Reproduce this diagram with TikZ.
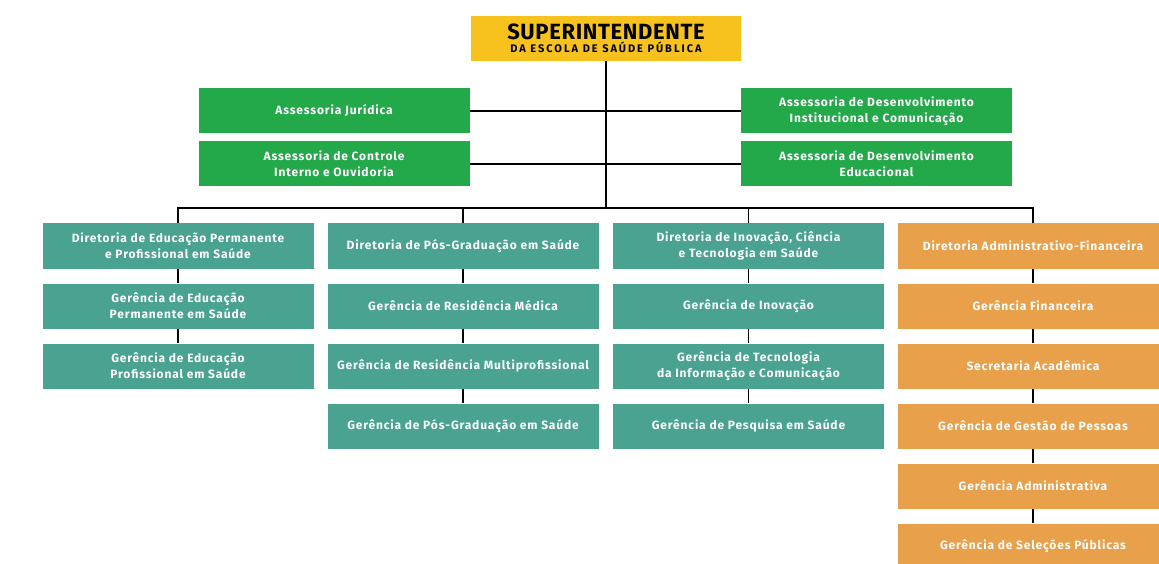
\documentclass[tikz,border=0pt]{standalone}
\usepackage{fontspec}
\setmainfont{Fira Sans}
\newfontfamily\unitfont[LetterSpace=7]{Fira Sans}
\newfontfamily\supfont[LetterSpace=3]{Fira Sans}
\newfontfamily\subfont[LetterSpace=18]{Fira Sans}
\definecolor{supyellow}{HTML}{F7C21E}
\definecolor{assgreen}{HTML}{23A84A}
\definecolor{dirteal}{HTML}{4AA291}
\definecolor{admorange}{HTML}{E9A04B}
\tikzset{
  unit/.style={minimum width=271pt, minimum height=45pt, inner sep=0pt,
    align=center, text=white, font=\unitfont\fontsize{12}{16}\selectfont\bfseries},
  assbox/.style={unit, fill=assgreen},
  dirbox/.style={unit, fill=dirteal},
  admbox/.style={unit, fill=admorange},
  link/.style={line width=1.9pt, black}
}
\begin{document}
\begin{tikzpicture}[x=1pt, y=-1pt]
		\useasboundingbox (0,0) rectangle (1159,564);
		\clip (0,0) rectangle (1159,564);

		% Superintendente
		\node[fill=supyellow, minimum width=270pt, minimum height=45pt, inner sep=0pt, align=center,
			font=\subfont\fontsize{11}{12.5}\selectfont\bfseries]
			(sup) at (606,38.5) {{\supfont\fontsize{22}{22}\selectfont\bfseries SUPERINTENDENTE}\\
			DA ESCOLA DE SAÚDE PÚBLICA};

		% Assessorias
		\node[assbox] (juridica) at (334,111) {Assessoria Jurídica};
		\node[assbox] (controle) at (334,164) {Assessoria de Controle\\Interno e Ouvidoria};
		\node[assbox] (institucional) at (876.5,111) {Assessoria de Desenvolvimento\\Institucional e Comunicação};
		\node[assbox] (educacional) at (876.5,164) {Assessoria de Desenvolvimento\\Educacional};

		% Diretorias
		\node[dirbox] (depps) at (178,246) {Diretoria de Educação Permanente\\e Profissional em Saúde};
		\node[dirbox] (dpgs) at (463,246) {Diretoria de Pós-Graduação em Saúde};
		\node[dirbox] (dict) at (748.5,246) {Diretoria de Inovação, Ciência\\e Tecnologia em Saúde};
		\node[admbox] (daf) at (1033,246) {Diretoria Administrativo-Financeira};

		% Gerencias
		\node[dirbox] (gep) at (178,306) {Gerência de Educação\\Permanente em Saúde};
		\node[dirbox] (gepro) at (178,366) {Gerência de Educação\\Profissional em Saúde};

		\node[dirbox] (grm) at (463,306) {Gerência de Residência Médica};
		\node[dirbox] (grmp) at (463,366) {Gerência de Residência Multiprofissional};
		\node[dirbox] (gpgs) at (463,426) {Gerência de Pós-Graduação em Saúde};

		\node[dirbox] (ginov) at (748.5,306) {Gerência de Inovação};
		\node[dirbox] (gtic) at (748.5,366) {Gerência de Tecnologia\\da Informação e Comunicação};
		\node[dirbox] (gpesq) at (748.5,426) {Gerência de Pesquisa em Saúde};

		\node[admbox] (gfin) at (1033,306) {Gerência Financeira};
		\node[admbox] (secac) at (1033,366) {Secretaria Acadêmica};
		\node[admbox] (ggp) at (1033,426) {Gerência de Gestão de Pessoas};
		\node[admbox] (gadm) at (1033,486) {Gerência Administrativa};
		\node[admbox] (gsp) at (1033,546) {Gerência de Seleções Públicas};

		% Ligacoes
		\coordinate (bus) at (606,208);
		\draw[link] (sup.south) -- (bus);
		\draw[link] (juridica.east) -- (institucional.west);
		\draw[link] (controle.east) -- (educacional.west);
		\draw[link] (depps.north) |- (bus) -| (daf.north);
		\draw[link] (dpgs.north) -- (dpgs.north |- bus);
		\draw[link] (dict.north) -- (dict.north |- bus);

		\draw[link] (depps) -- (gep) -- (gepro);
		\draw[link] (dpgs) -- (grm) -- (grmp) -- (gpgs);
		\draw[link] (dict) -- (ginov) -- (gtic) -- (gpesq);
		\draw[link] (daf) -- (gfin) -- (secac) -- (ggp) -- (gadm) -- (gsp);
	\end{tikzpicture}
\end{document}
